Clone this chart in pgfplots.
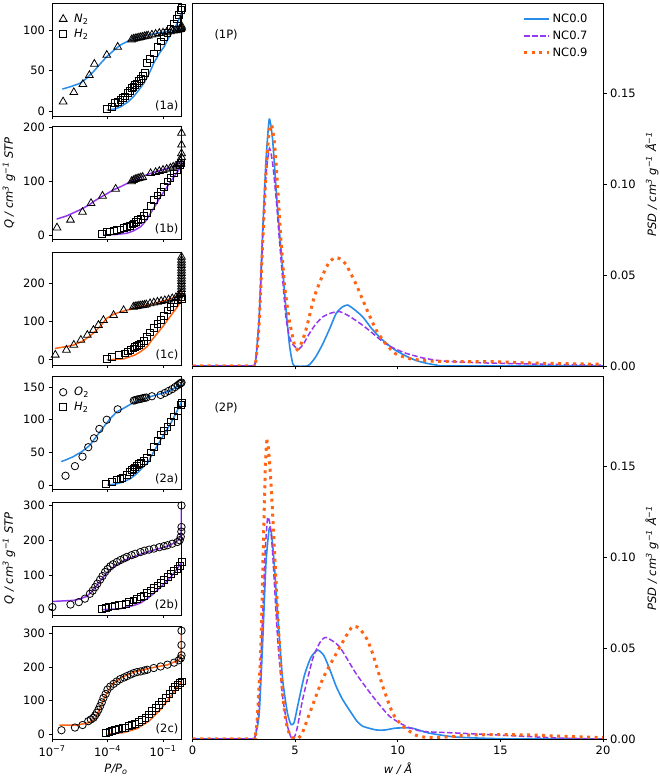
\documentclass[border=0pt]{standalone}
\usepackage{pgfplots}
\pgfplotsset{compat=1.18}
\usepackage{fontspec}
\setmainfont{DejaVu Sans}
\newcommand\fs{\fontsize{11.5}{13.8}\selectfont}
\definecolor{cblue}{RGB}{40,140,235}
\definecolor{cpurp}{RGB}{150,55,240}
\definecolor{corng}{RGB}{255,100,20}
\pgfplotsset{
  base/.style={scale only axis, font=\fs,
    /pgf/number format/assume math mode=true,
    tick align=outside, major tick length=3.5pt,
    tick style={black, line width=0.8pt},
    axis line style={line width=0.8pt}},
  lft/.style={base, width=129.5pt, height=113pt, xmin=-7, xmax=0,
    xtick={-7,-4,-1}, xticklabels={}, xtick pos=left, ytick pos=left,
    anchor=north west,
    legend style={draw=none, fill=none, at={(0.0,1.0)}, anchor=north west,
      inner xsep=0pt, inner ysep=0pt, yshift=-9pt,
      font=\fs, row sep=1pt},
    legend cell align=left},
  rgt/.style={base, width=410.5pt, height=363pt, xmin=0, xmax=20, ymin=0, ymax=0.2,
    xtick={0,5,10,15,20}, ytick={0,0.05,0.1,0.15},
    yticklabels={0.00,0.05,0.10,0.15},
    xtick pos=left, ytick pos=right, yticklabel pos=right, anchor=north west},
  mk/.style={only marks, mark options={black, line width=0.8pt, fill=none, solid},
    legend image code/.code={\path[draw=none] (0pt,0pt) -- (20pt,0pt); \draw[##1] plot coordinates {(11pt,0pt)};}},
  tri/.style={mk, mark=triangle, mark size=4.5pt},
  sq/.style={mk, mark=square, mark size=3.4pt},
  ci/.style={mk, mark=o, mark size=3.7pt},
  fitb/.style={cblue, line width=1.5pt, forget plot},
  fitp/.style={cpurp, line width=1.5pt, forget plot},
  fito/.style={corng, line width=1.5pt, forget plot},
  psd/.style={smooth, tension=0.35},
}
\begin{document}
\begin{tikzpicture}[x=1pt,y=1pt]
\useasboundingbox (0pt,0pt) rectangle (660pt,778pt);

% ---------------- 1a ----------------
\begin{axis}[lft, at={(52pt,775pt)}, ymin=-6.2, ymax=133.3, ytick={0,50,100}]
\addplot[tri] coordinates {(-6.4,11.5)(-5.82,23)(-5.33,33)(-4.98,44)(-4.71,58)(-4.04,69)(-3.45,79)
 (-2.7,88)(-2.6,89)(-2.5,89.5)(-2.4,90)(-2.3,90.5)(-2.2,91)(-2.1,91.5)(-2.0,92)(-1.9,92.5)(-1.8,93)
 (-1.6,94)(-1.4,95)(-1.2,96)(-1.0,96.5)(-0.8,97.5)(-0.6,98)(-0.45,99)(-0.3,99.5)(-0.2,100)(-0.1,100.5)
 (-0.05,101)(-0.02,102)(0,103)(0,105)};
\addlegendentry{\textit{N}\textsubscript{2}}
\addplot[sq] coordinates {(-4.04,3)(-3.76,5)(-3.58,9.5)(-3.45,11)(-3.3,13.6)(-3.15,16)(-3.04,18)(-2.9,22)
 (-2.8,25)(-2.7,28)(-2.6,30)(-2.5,32)(-2.4,34)(-2.3,37)(-2.2,40)(-2.1,43)(-2.0,47)(-1.85,59)(-1.7,64)
 (-1.5,71)(-1.3,79)(-1.13,86)(-0.95,91)(-0.76,96)(-0.6,101)(-0.4,108)(-0.25,114)(-0.12,119)(-0.04,125)(0,127)};
\addlegendentry{\textit{H}\textsubscript{2}}
\addplot[fitb] coordinates {(-6.44,27)(-6,30)(-5.5,34)(-5.2,39)(-4.76,48.5)(-4.4,58)(-4.04,67)(-3.7,74)
 (-3.3,81.5)(-3.0,85)(-2.58,90)(-2.0,93)(-1.67,94.6)(-1.2,96.5)(-0.76,98)(-0.4,99.5)(0,101)};
\addplot[fitb] coordinates {(-4.04,1)(-3.6,2.5)(-3.3,5)(-2.9,11)(-2.58,18)(-2.3,26)(-2.04,34)(-1.75,46)
 (-1.5,59)(-1.2,71)(-0.95,79)(-0.7,90)(-0.4,100)(-0.2,110)(0,121)};
\node[anchor=south east, inner sep=1pt] at (rel axis cs:0.985,0.03) {(1a)};
\end{axis}

% ---------------- 1b ----------------
\begin{axis}[lft, at={(52pt,652pt)}, ymin=-7, ymax=203, ytick={0,100,200}]
\addplot[tri] coordinates {(-6.73,14)(-6.0,28.5)(-5.35,43)(-4.89,59.4)(-4.27,73)(-3.56,86)(-2.7,100)
 (-2.6,102)(-2.5,104)(-2.4,105)(-2.3,106)(-2.2,107)(-2.1,108)(-1.67,115)(-1.4,117)(-1.2,119)(-1.0,121)
 (-0.8,123)(-0.6,125)(-0.45,127)(-0.3,129)(-0.2,131)(-0.1,134)(-0.05,138)(0,145)(0,152)(0,168)(0,190)};
\addplot[sq] coordinates {(-4.31,2)(-4.04,5.6)(-3.85,7)(-3.67,8.7)(-3.5,10)(-3.3,11)(-3.1,13)(-2.95,16)
 (-2.8,18)(-2.65,20)(-2.58,22)(-2.45,25)(-2.35,28)(-2.2,31)(-2.05,36)(-1.85,41)(-1.65,55)(-1.49,66)
 (-1.3,74)(-1.13,81)(-0.95,90)(-0.76,100)(-0.6,107)(-0.4,115)(-0.25,122)(-0.1,130)(-0.02,134)};
\addplot[fitp] coordinates {(-6.75,30)(-6.2,36)(-5.5,47)(-5.0,56)(-4.76,62.5)(-4.4,70)(-4.04,77)(-3.7,84)
 (-3.3,90)(-2.9,97)(-2.58,103)(-2.2,108)(-1.67,115)(-1.2,120)(-0.76,124.5)(-0.4,129)(-0.13,134)(0,137)};
\addplot[fitp] coordinates {(-4.2,0)(-3.5,1.5)(-2.95,3.7)(-2.6,8)(-2.2,16)(-1.9,28)(-1.67,41)(-1.4,56)
 (-1.13,72)(-0.85,86)(-0.58,100)(-0.3,114)(-0.04,127.5)(0,130)};
\node[anchor=south east, inner sep=1pt] at (rel axis cs:0.985,0.03) {(1b)};
\end{axis}

% ---------------- 1c ----------------
\begin{axis}[lft, at={(52pt,526pt)}, ymin=-13.5, ymax=283, ytick={0,100,200}]
\addplot[tri] coordinates {(-6.82,13)(-6.22,26)(-5.82,39)(-5.44,52)(-5.09,65)(-4.76,78)(-4.49,91)(-4.22,104)
 (-3.67,117)(-3.13,130)(-2.6,139)(-2.5,140)(-2.4,141)(-2.3,142)(-2.2,142.5)(-2.1,143)(-2.0,144)(-1.9,145)
 (-1.7,148)(-1.5,150)(-1.3,152)(-1.1,154)(-0.9,156)(-0.7,158)(-0.5,161)(-0.3,164)(-0.15,168)(-0.05,172)
 (0,178)(0,185)(0,192)(0,199)(0,206)(0,213)(0,220)(0,227)(0,234)(0,241)(0,248)(0,255)(0,262)(0,270)};
\addplot[sq] coordinates {(-4.04,2.6)(-3.76,7)(-3.4,13)(-3.04,17)(-2.9,22)(-2.76,26)(-2.6,30)(-2.5,33)
 (-2.4,36)(-2.3,40)(-2.2,43)(-2.05,50)(-1.85,61)(-1.7,72)(-1.5,83)(-1.3,94)(-1.13,104)(-0.95,116)
 (-0.76,130)(-0.6,138)(-0.4,148)(-0.2,156)(-0.04,165)(0,160)};
\addplot[fito] coordinates {(-6.84,30)(-6.2,35)(-5.82,39)(-5.3,50)(-4.76,70)(-4.49,83)(-4.04,109)(-3.7,119)
 (-3.3,126)(-2.58,135)(-1.85,143.5)(-1.13,152)(-0.4,163.5)(-0.04,174)(0,180)};
\addplot[fito] coordinates {(-4.04,0)(-3.13,2.6)(-2.5,13)(-2.2,22)(-1.85,35)(-1.6,52)(-1.3,70)(-1.0,88)
 (-0.76,104)(-0.5,121)(-0.22,139)(0,158)};
\node[anchor=south east, inner sep=1pt] at (rel axis cs:0.985,0.03) {(1c)};
\end{axis}

% ---------------- 2a ----------------
\begin{axis}[lft, at={(52pt,402pt)}, ymin=-6, ymax=167, ytick={0,50,100,150}]
\addplot[ci] coordinates {(-6.27,14.3)(-5.76,29)(-5.35,43.5)(-5.04,58)(-4.73,71.6)(-4.44,86)(-4.04,100)
 (-3.45,116)(-2.58,129.4)(-2.5,130)(-2.4,131)(-2.3,131.5)(-2.2,132)(-2.1,133)(-2.0,133.5)(-1.9,134)
 (-1.6,136)(-1.13,138)(-0.9,141)(-0.7,144)(-0.5,147)(-0.35,150)(-0.2,153)(-0.1,155)(-0.04,156)(0,157)};
\addlegendentry{\textit{O}\textsubscript{2}}
\addplot[sq] coordinates {(-4.07,1.5)(-3.76,5)(-3.49,8.7)(-3.3,10)(-3.2,11)(-2.95,15)(-2.8,20)(-2.7,23)
 (-2.6,25)(-2.5,27)(-2.4,30)(-2.3,32)(-2.2,34)(-2.04,37)(-1.85,41)(-1.67,50)(-1.49,59)(-1.3,68)
 (-1.13,77)(-0.95,83)(-0.76,89.5)(-0.58,97)(-0.4,105)(-0.2,114)(-0.04,123)(0,126)};
\addlegendentry{\textit{H}\textsubscript{2}}
\addplot[fitb] coordinates {(-6.5,36)(-6.3,38)(-5.85,43.5)(-5.4,51)(-4.95,61)(-4.4,82)(-3.85,102)(-3.5,112)
 (-3.13,117.6)(-2.4,129.4)(-1.67,135.5)(-0.76,143)(-0.04,153.5)(0,154)};
\addplot[fitb] coordinates {(-4.0,0)(-3.5,2)(-3.13,5)(-2.75,10)(-2.4,18)(-2.1,27)(-1.85,33)(-1.5,51)
 (-1.13,69)(-0.85,82)(-0.58,94.6)(-0.3,110)(-0.04,125)(0,127)};
\node[anchor=south east, inner sep=1pt] at (rel axis cs:0.985,0.03) {(2a)};
\end{axis}

% ---------------- 2b ----------------
\begin{axis}[lft, at={(52pt,276pt)}, ymin=-15, ymax=310, ytick={0,100,200,300}]
\addplot[ci] coordinates {(-6.98,7.7)(-6.0,15)(-5.55,22)(-5.22,32)(-4.95,46)(-4.8,55)(-4.67,65)(-4.55,75)
 (-4.4,86.5)(-4.27,97)(-4.13,108.7)(-4.0,117)(-3.85,125)(-3.7,131)(-3.49,137.5)(-3.3,143)(-3.1,148)
 (-2.95,152)(-2.7,157)(-2.5,161)(-2.22,166)(-2.0,170)(-1.75,173)(-1.49,176)(-1.2,180)(-0.95,183)
 (-0.76,185.6)(-0.5,190)(-0.22,195)(-0.1,200)(-0.04,210)(-0.01,225)(0,238)(0,300)};
\addplot[sq] coordinates {(-4.31,3)(-4.1,6)(-3.95,8)(-3.75,10)(-3.58,11.5)(-3.4,13)(-3.22,15)(-3.0,18)
 (-2.85,22)(-2.6,27)(-2.4,32)(-2.2,36)(-2.04,41)(-1.85,48)(-1.67,56)(-1.5,63)(-1.3,70)(-1.1,78)
 (-0.95,85)(-0.75,94)(-0.58,104)(-0.4,111)(-0.22,118)(-0.1,127)(0,137.5)};
\addplot[fitp] coordinates {(-6.95,24)(-5.85,27)(-5.5,31)(-5.13,38.5)(-4.85,52)(-4.58,70)(-4.3,89)(-4.04,106)
 (-3.75,120)(-3.49,130)(-3.0,144)(-2.58,152)(-2.1,162)(-1.67,169)(-1.2,176)(-0.76,183)(-0.4,192)
 (-0.13,202)(-0.03,215)(-0.01,250)(0,290)};
\addplot[fitp] coordinates {(-4.31,0)(-3.31,3)(-2.58,12.5)(-2.2,20)(-1.85,32)(-1.5,47)(-1.13,65)(-0.85,79)
 (-0.58,94)(-0.3,113)(-0.04,133)(0,136)};
\node[anchor=south east, inner sep=1pt] at (rel axis cs:0.985,0.03) {(2b)};
\end{axis}

% ---------------- 2c ----------------
\begin{axis}[lft, at={(52pt,152pt)}, ymin=-14, ymax=322, ytick={0,100,200,300},
  xticklabels={10\textsuperscript{−7},10\textsuperscript{−4},10\textsuperscript{−1}}]
\addplot[ci] coordinates {(-6.49,12)(-5.76,20)(-5.35,27.5)(-5.04,39)(-4.9,44)(-4.76,49)(-4.67,56)(-4.58,64)
 (-4.49,73)(-4.4,83.6)(-4.31,95)(-4.22,108)(-4.1,120)(-4.0,133)(-3.85,142)(-3.67,150)(-3.5,157)
 (-3.31,164)(-3.1,169)(-2.95,173)(-2.75,178)(-2.58,182)(-2.4,185)(-2.2,187)(-2.0,190)(-1.85,192)
 (-1.5,197)(-1.13,201.6)(-0.76,207)(-0.4,213)(-0.15,220)(-0.04,226)(0,235)(0,265.5)(0,308)};
\addplot[sq] coordinates {(-4.07,5)(-3.9,8)(-3.76,10)(-3.6,12)(-3.4,15)(-3.2,18)(-3.04,20)(-2.85,24)
 (-2.7,27)(-2.5,31)(-2.31,36)(-2.15,42)(-1.95,49)(-1.75,59)(-1.58,69)(-1.4,79)(-1.22,88.5)(-1.05,98)
 (-0.85,108)(-0.65,120)(-0.49,133)(-0.35,140)(-0.2,148)(-0.08,152)(0,157)};
\addplot[fito] coordinates {(-6.6,27.5)(-5.67,27.5)(-5.04,34)(-4.67,46)(-4.4,79)(-4.13,113)(-3.76,147.5)
 (-3.31,167)(-2.58,185)(-1.67,197)(-0.76,206.5)(-0.13,221)(-0.02,232)(0,300)};
\addplot[fito] coordinates {(-4.0,0)(-3.13,5)(-2.4,17)(-1.76,39)(-1.13,74)(-0.58,113)(0,157)};
\node[anchor=south east, inner sep=1pt] at (rel axis cs:0.985,0.03) {(2c)};
\end{axis}

% ---------------- 1P ----------------
\begin{axis}[rgt, at={(192.5pt,775pt)}, xticklabels={},
  legend style={draw=none, fill=none, at={(0.975,0.982)}, anchor=north east,
    font=\fs, row sep=3pt},
  legend image code/.code={\draw[#1] plot coordinates {(0pt,0pt) (12.5pt,0pt) (25pt,0pt)};}]
\addplot[psd, cblue, line width=1.6pt] coordinates {(0,0)(2.9,0)(3.0,0)(3.09,0.004)(3.25,0.027)(3.41,0.072)
 (3.58,0.113)(3.74,0.136)(3.9,0.125)(4.07,0.098)(4.23,0.075)(4.39,0.054)(4.55,0.032)(4.72,0.012)
 (4.85,0.003)(4.96,0)(5.6,0)(5.8,0.002)(6.0,0.005)(6.34,0.012)(6.7,0.021)(7.0,0.029)(7.3,0.0325)
 (7.56,0.0336)(7.9,0.031)(8.3,0.027)(8.7,0.021)(9.1,0.016)(9.5,0.012)(9.9,0.0086)(10.4,0.0055)
 (10.9,0.003)(11.4,0.0015)(11.9,0.0005)(12.5,0)(20,0)};
\addlegendentry{NC0.0}
\addplot[psd, cpurp, line width=1.5pt, dash pattern=on 5.5pt off 2.5pt] coordinates {(0,0)(2.9,0)(3.0,0)(3.09,0.004)
 (3.25,0.026)(3.41,0.068)(3.58,0.105)(3.75,0.120)(3.9,0.112)(4.07,0.093)(4.23,0.070)(4.39,0.048)
 (4.55,0.027)(4.72,0.016)(4.88,0.012)(5.05,0.010)(5.2,0.0095)(5.4,0.012)(5.7,0.018)(6.0,0.023)
 (6.34,0.027)(6.7,0.029)(7.15,0.030)(7.55,0.028)(7.97,0.025)(8.4,0.0215)(8.78,0.018)(9.2,0.014)
 (9.6,0.011)(10.0,0.0088)(10.4,0.007)(11.2,0.0045)(12,0.003)(13,0.0022)(14.5,0.0016)(16,0.0012)
 (18,0.0008)(20,0.0005)};
\addlegendentry{NC0.7}
\addplot[psd, corng, line width=3pt, dash pattern=on 3pt off 4.5pt] coordinates {(0,0)(2.9,0)(3.0,0)(3.09,0.003)
 (3.25,0.024)(3.41,0.066)(3.58,0.106)(3.72,0.128)(3.85,0.133)(4.0,0.122)(4.15,0.098)(4.32,0.068)
 (4.5,0.043)(4.72,0.025)(4.96,0.012)(5.1,0.009)(5.28,0.012)(5.45,0.017)(5.6,0.023)(5.93,0.038)
 (6.34,0.050)(6.65,0.057)(6.94,0.0597)(7.2,0.059)(7.48,0.056)(7.97,0.045)(8.46,0.032)(8.94,0.020)
 (9.43,0.012)(9.9,0.0067)(10.6,0.004)(11.5,0.0028)(12.5,0.0025)(14,0.0024)(15,0.0023)(16,0.0018)
 (17,0.0015)(18.5,0.0012)(20,0.001)};
\addlegendentry{NC0.9}
\node[anchor=west] at (rel axis cs:0.045,0.912) {(1P)};
\end{axis}

% ---------------- 2P ----------------
\begin{axis}[rgt, at={(192.5pt,402pt)}]
\addplot[psd, cblue, line width=1.6pt] coordinates {(0,0)(2.9,0)(3.0,0)(3.09,0.003)(3.25,0.014)(3.41,0.051)
 (3.58,0.097)(3.74,0.116)(3.85,0.113)(3.98,0.097)(4.15,0.069)(4.39,0.033)(4.63,0.014)(4.8,0.008)(4.95,0.009)
 (5.12,0.018)(5.45,0.035)(5.77,0.045)(6.1,0.049)(6.4,0.046)(6.7,0.038)(7.0,0.029)(7.3,0.022)(7.64,0.016)
 (8.0,0.010)(8.3,0.007)(8.94,0.005)(9.4,0.005)(9.9,0.006)(10.7,0.006)(11.5,0.0033)(12.8,0.0011)
 (14.5,0.0003)(16,0)(20,0)};
\addplot[psd, cpurp, line width=1.5pt, dash pattern=on 5.5pt off 2.5pt] coordinates {(0,0)(2.9,0)(3.0,0)(3.1,0.004)
 (3.25,0.023)(3.41,0.066)(3.54,0.103)(3.66,0.122)(3.78,0.118)(3.9,0.103)(4.15,0.055)(4.39,0.0235)
 (4.63,0.007)(4.8,0.001)(4.93,0)(5.1,0.006)(5.37,0.022)(5.85,0.044)(6.2,0.053)(6.5,0.056)(7.15,0.051)
 (7.97,0.036)(8.78,0.0235)(9.6,0.0125)(10.4,0.007)(11.2,0.0042)(12.85,0.0033)(14.5,0.0024)
 (16.1,0.0015)(17.7,0.0006)(19,0.0002)(20,0)};
\addplot[psd, corng, line width=3pt, dash pattern=on 3pt off 4.5pt] coordinates {(0,0)(2.9,0)(3.0,0)(3.1,0.004)
 (3.17,0.014)(3.33,0.05)(3.45,0.106)(3.55,0.15)(3.62,0.164)(3.7,0.160)(3.8,0.145)(3.9,0.125)
 (4.15,0.069)(4.39,0.025)(4.55,0.010)(4.72,0.003)(5.0,0)(5.3,0.002)(5.7,0.014)(6.34,0.033)(7.0,0.047)
 (7.5,0.057)(7.8,0.062)(8.13,0.061)(8.5,0.055)(8.78,0.047)(9.27,0.029)(9.76,0.014)(10.25,0.007)
 (10.9,0.002)(11.5,0.0008)(12.5,0.0012)(13.5,0.0022)(15,0.0024)(16.5,0.0022)(18,0.0015)(20,0.0008)};
\node[anchor=west] at (rel axis cs:0.045,0.912) {(2P)};
\end{axis}

% ---------------- labels ----------------
\node[rotate=90, font=\fs] at (9pt,595pt) {\textit{Q / cm\textsuperscript{3} g\textsuperscript{−1} STP}};
\node[rotate=90, font=\fs] at (9pt,219.5pt) {\textit{Q / cm\textsuperscript{3} g\textsuperscript{−1} STP}};
\node[rotate=90, font=\fs] at (652pt,594pt) {\textit{PSD / cm\textsuperscript{3} g\textsuperscript{−1} Å\textsuperscript{−1}}};
\node[rotate=90, font=\fs] at (652pt,220pt) {\textit{PSD / cm\textsuperscript{3} g\textsuperscript{−1} Å\textsuperscript{−1}}};
\node[font=\fs] at (398pt,9.5pt) {\textit{w / Å}};
\node[font=\fs] at (116pt,8.5pt) {\textit{P/P\textsubscript{o}}};
\end{tikzpicture}
\end{document}
